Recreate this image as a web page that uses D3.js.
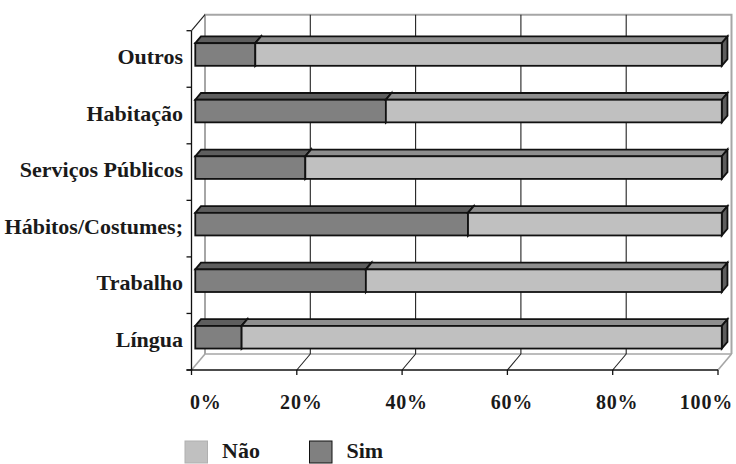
<!DOCTYPE html>
<html>
<head>
<meta charset="utf-8">
<script src="https://cdn.jsdelivr.net/npm/d3@7"></script>
<style>
  html, body { margin: 0; padding: 0; background: #fff; }
  svg { display: block; }
  text { font-family: "Liberation Serif", "DejaVu Serif", serif; font-weight: bold; fill: #1a1a1a; }
</style>
</head>
<body>
<svg id="chart" width="736" height="464"></svg>
<script>
// Categories, top to bottom
const categories = ["Outros", "Habitação", "Serviços Públicos", "Hábitos/Costumes;", "Trabalho", "Língua"];
// Share of answers per category (%)
const simValues = [11.4, 36.2, 20.9, 51.8, 32.4, 8.8];
const naoValues = [88.6, 63.8, 79.1, 48.2, 67.6, 91.2];
const seriesNames = ["Sim", "Não"];
const tickValues = [0, 20, 40, 60, 80, 100];
const tickLabels = ["0%", "20%", "40%", "60%", "80%", "100%"];
const legendNames = ["Não", "Sim"];

const colors = {
  "Sim": { front: "#808080", top: "#5e5e5e", side: "#5a5a5a" },
  "Não": { front: "#c0c0c0", top: "#8e8e8e", side: "#5e5e5e" }
};

(function () {
const svg = d3.select("#chart");

// plot frame (front plane) and depth vector of the 3-D box
const pLeft = 191.5, pRight = 718, pTop = 30.7, pBottom = 370;
const depth = { x: 13.5, y: -16 };
const barDepth = [0.28, 0.7];   // bars sit between these fractions of the depth

const x = d3.scaleLinear().domain([0, 100]).range([pLeft, pRight]);
const y = d3.scaleBand().domain(categories).range([pTop, pBottom])
  .paddingInner(0.6).paddingOuter(0.3);
const yOuter = d3.scaleBand().domain(categories).range([pTop, pBottom]);

const wallGrey = "#a6a6a6";

// back wall border
const g = svg.append("g");
g.append("path")
  .attr("d", `M${pLeft + depth.x},${pBottom + depth.y} V${pTop + depth.y} H${pRight + depth.x} V${pBottom + depth.y}`)
  .attr("fill", "none").attr("stroke", wallGrey).attr("stroke-width", 2);
// back floor edge
g.append("line")
  .attr("x1", pLeft + depth.x).attr("x2", pRight + depth.x)
  .attr("y1", pBottom + depth.y).attr("y2", pBottom + depth.y)
  .attr("stroke", wallGrey).attr("stroke-width", 1.6);
// floor side edges
g.append("line")
  .attr("x1", pLeft).attr("y1", pBottom).attr("x2", pLeft + depth.x).attr("y2", pBottom + depth.y)
  .attr("stroke", wallGrey).attr("stroke-width", 1.6);
g.append("line")
  .attr("x1", pRight).attr("y1", pBottom).attr("x2", pRight + depth.x).attr("y2", pBottom + depth.y)
  .attr("stroke", wallGrey).attr("stroke-width", 1.6);
// top-left wall edge
g.append("line")
  .attr("x1", pLeft).attr("y1", pTop).attr("x2", pLeft + depth.x).attr("y2", pTop + depth.y)
  .attr("stroke", "#222").attr("stroke-width", 1.2);

// gridlines on the back wall + floor diagonals
const inner = tickValues.filter(v => v > 0 && v < 100);
g.selectAll("line.grid").data(inner).join("line")
  .attr("class", "grid")
  .attr("x1", d => x(d) + depth.x).attr("x2", d => x(d) + depth.x)
  .attr("y1", pTop + depth.y).attr("y2", pBottom + depth.y)
  .attr("stroke", "#222").attr("stroke-width", 1.1);
g.selectAll("line.diag").data(inner).join("line")
  .attr("class", "diag")
  .attr("x1", d => x(d)).attr("y1", pBottom)
  .attr("x2", d => x(d) + depth.x).attr("y2", pBottom + depth.y)
  .attr("stroke", "#222").attr("stroke-width", 1.1);

// 3-D stacked bars
const stackData = categories.map((c, i) => ({ cat: c, Sim: simValues[i], "Não": naoValues[i] }));
const stacked = d3.stack().keys(seriesNames).offset(d3.stackOffsetExpand)(stackData);

const f0 = { x: depth.x * barDepth[0], y: depth.y * barDepth[0] };
const dd = { x: depth.x * (barDepth[1] - barDepth[0]), y: depth.y * (barDepth[1] - barDepth[0]) };

const bars = svg.append("g");
const edge = sel => sel.attr("stroke", "#111").attr("stroke-width", 1.8).attr("stroke-linejoin", "miter");
categories.forEach((cat, i) => {
  stacked.forEach(layer => {
    const key = layer.key;
    const [a, b] = layer[i];
    const x0 = x(a * 100) + f0.x, x1 = x(b * 100) + f0.x;
    const y0 = y(cat) + f0.y, y1 = y0 + y.bandwidth();
    const col = colors[key];
    // top face
    edge(bars.append("path")
      .attr("d", `M${x0},${y0} L${x0 + dd.x},${y0 + dd.y} L${x1 + dd.x},${y0 + dd.y} L${x1},${y0} Z`)
      .attr("fill", col.top));
    // right side face
    edge(bars.append("path")
      .attr("d", `M${x1},${y0} L${x1 + dd.x},${y0 + dd.y} L${x1 + dd.x},${y1 + dd.y} L${x1},${y1} Z`)
      .attr("fill", col.side));
    // front face
    edge(bars.append("rect")
      .attr("x", x0).attr("y", y0).attr("width", x1 - x0).attr("height", y1 - y0)
      .attr("fill", col.front));
  });
});

// front axes
const axes = svg.append("g");
axes.append("line")
  .attr("x1", pLeft).attr("x2", pLeft).attr("y1", pTop).attr("y2", pBottom)
  .attr("stroke", "#111").attr("stroke-width", 1.3);
axes.append("line")
  .attr("x1", pLeft - 5).attr("x2", pRight).attr("y1", pBottom).attr("y2", pBottom)
  .attr("stroke", "#111").attr("stroke-width", 1.3);

// category boundary ticks
const bounds = categories.map(c => yOuter(c)).concat([pBottom]);
axes.selectAll("line.ytick").data(bounds).join("line")
  .attr("class", "ytick")
  .attr("x1", pLeft - 5).attr("x2", pLeft).attr("y1", d => d).attr("y2", d => d)
  .attr("stroke", "#111").attr("stroke-width", 1.3);

// x ticks
axes.selectAll("line.xtick").data(tickValues).join("line")
  .attr("class", "xtick")
  .attr("x1", d => x(d)).attr("x2", d => x(d)).attr("y1", pBottom).attr("y2", pBottom + 5)
  .attr("stroke", "#111").attr("stroke-width", 1.3);

// x tick labels, kept inside the chart area
const labelMin = 190, labelMax = 733;
axes.selectAll("text.xlabel").data(tickValues).join("text")
  .attr("class", "xlabel")
  .attr("font-size", 20)
  .attr("letter-spacing", 0.8)
  .attr("y", 409)
  .text((d, i) => tickLabels[i])
  .each(function (d) {
    const w = this.getComputedTextLength();
    let cx = x(d) + 4.5;
    if (cx - w / 2 < labelMin) cx = labelMin + w / 2;
    if (cx + w / 2 > labelMax) cx = labelMax - w / 2;
    d3.select(this).attr("x", cx - w / 2);
  });

// category labels
axes.selectAll("text.ylabel").data(categories).join("text")
  .attr("class", "ylabel")
  .attr("font-size", 22)
  .attr("text-anchor", "end")
  .attr("x", 183)
  .attr("y", d => yOuter(d) + yOuter.bandwidth() / 2 + 5)
  .text(d => d);

// legend
const legend = svg.append("g");
const legendX = [185, 309.5];
legendNames.forEach((name, i) => {
  legend.append("rect")
    .attr("x", legendX[i]).attr("y", 441)
    .attr("width", 22.5).attr("height", 22)
    .attr("fill", colors[name].front)
    .attr("stroke", name === "Sim" ? "#111" : "#b0b0b0")
    .attr("stroke-width", 1);
  legend.append("text")
    .attr("font-size", 22)
    .attr("x", legendX[i] + 37).attr("y", 458)
    .text(name);
});
})();
</script>
</body>
</html>
